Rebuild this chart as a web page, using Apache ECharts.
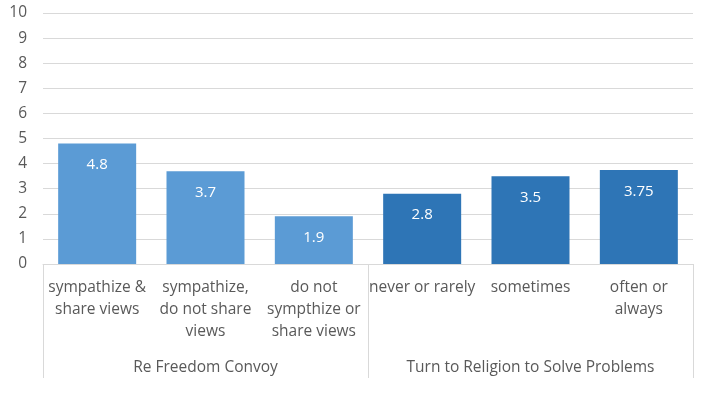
<!DOCTYPE html>
<html>
<head>
<meta charset="utf-8">
<script src="https://cdn.jsdelivr.net/npm/echarts@6/dist/echarts.min.js"></script>
<style>html,body{margin:0;padding:0;background:#fff;}#c{width:716px;height:395px;}</style>
</head>
<body>
<div id="c"></div>
<script>
var categories = ["sympathize &\nshare views", "sympathize,\ndo not share\nviews", "do not\nsympthize or\nshare views", "never or rarely", "sometimes", "often or\nalways"];
var values = [4.8, 3.7, 1.9, 2.8, 3.5, 3.75];
var groups = ["Re Freedom Convoy", "Turn to Religion to Solve Problems"];
var groupOfCategory = [0, 0, 0, 1, 1, 1];
var yTicks = [0, 10, 1];

var groupColors = ["#5b9bd5", "#2e75b6"];
var FONT = "Open Sans";
var TXT = "#595959";

var chart = echarts.init(document.getElementById('c'), null, {renderer: 'canvas'});
chart.setOption({
  animation: false,
  grid: {left: 43, right: 23, top: 13, bottom: 131},
  xAxis: [{
    type: 'category',
    data: categories,
    position: 'bottom',
    axisLine: {show: true, lineStyle: {color: '#d9d9d9', width: 1}},
    axisTick: {show: false},
    axisLabel: {interval: 0, color: TXT, fontFamily: FONT, fontSize: 15.5, lineHeight: 22, margin: 13}
  }, {
    type: 'category',
    data: groups,
    position: 'bottom',
    axisLine: {show: false},
    axisTick: {show: true, length: 114, alignWithLabel: false, lineStyle: {color: '#d9d9d9', width: 1}},
    axisLabel: {interval: 0, color: TXT, fontFamily: FONT, fontSize: 15.5, lineHeight: 20, margin: 94}
  }],
  yAxis: {
    type: 'value',
    min: yTicks[0], max: yTicks[1], interval: yTicks[2],
    axisLine: {show: false},
    axisTick: {show: false},
    splitLine: {lineStyle: {color: '#d9d9d9', width: 1}},
    axisLabel: {color: TXT, fontFamily: FONT, fontSize: 15.5, margin: 16}
  },
  series: [{
    type: 'bar',
    xAxisIndex: 0,
    data: values,
    barWidth: '72%',
    itemStyle: {color: function (p) { return groupColors[groupOfCategory[p.dataIndex]]; }},
    label: {show: true, position: 'insideTop', distance: 14, color: '#ffffff', fontFamily: FONT, fontSize: 15}
  }]
});
</script>
</body>
</html>
